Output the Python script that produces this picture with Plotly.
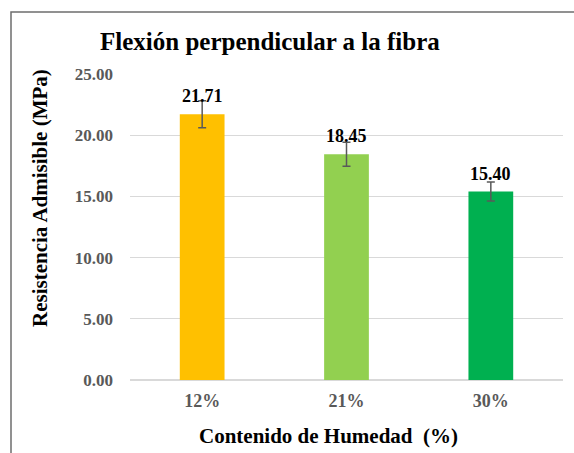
import plotly.graph_objects as go

categories = ["12%", "21%", "30%"]
values = [21.71, 18.45, 15.40]
errors = [1.10, 0.98, 0.78]
colors = ["#FFC000", "#92D050", "#00B050"]
tick_vals = [0, 5, 10, 15, 20, 25]
tick_text = ["0.00", "5.00", "10.00", "15.00", "20.00", "25.00"]

serif = "Liberation Serif"

fig = go.Figure()
fig.add_trace(go.Bar(
    x=categories, y=values,
    marker=dict(color=colors, line=dict(width=0)),
    error_y=dict(type="data", array=errors, visible=True, color="#595959", thickness=1.5, width=4),
    width=0.31,
    hoverinfo="skip",
))

for c, v in zip(categories, values):
    fig.add_annotation(x=c, y=v, text=f"<b>{v:.2f}</b>", showarrow=False,
                       yshift=18, yanchor="middle",
                       font=dict(family=serif, size=18, color="black"))

# titles
fig.add_annotation(xref="paper", yref="paper", x=(270-130)/433, y=(380-42)/306,
                   text="<b>Flexión perpendicular a la fibra</b>", showarrow=False,
                   xanchor="center", yanchor="middle",
                   font=dict(family=serif, size=25, color="black"))
fig.add_annotation(xref="paper", yref="paper", x=(328-130)/433, y=(380-436)/306,
                   text="<b>Contenido de Humedad  (%)</b>", showarrow=False,
                   xanchor="center", yanchor="middle",
                   font=dict(family=serif, size=21, color="black"))
fig.add_annotation(xref="paper", yref="paper", x=(40-130)/433, y=(380-198)/306,
                   text="<b>Resistencia Admisible (MPa)</b>", showarrow=False, textangle=-90,
                   xanchor="center", yanchor="middle",
                   font=dict(family=serif, size=21, color="black"))

# outer border (chart area frame)
fig.add_shape(type="rect", xref="paper", yref="paper",
              x0=(11-130)/433, x1=(600-130)/433, y0=(380-480)/306, y1=(380-12)/306,
              line=dict(color="#6E6E6E", width=1.5), fillcolor="rgba(0,0,0,0)", layer="below")

fig.update_layout(
    width=574, height=453,
    margin=dict(l=130, r=11, t=74, b=73),
    paper_bgcolor="white", plot_bgcolor="white",
    showlegend=False,
    bargap=0.69,
    xaxis=dict(showgrid=False, showline=False, zeroline=False,
               tickfont=dict(family=serif, size=18, color="#595959"),
               ticklabelstandoff=8,
               tickprefix="<b>", ticksuffix="</b>"),
    yaxis=dict(range=[0, 25], tickvals=tick_vals, ticktext=[f"<b>{t}</b>" for t in tick_text],
               showgrid=True, gridcolor="#D9D9D9", gridwidth=1,
               zeroline=True, zerolinecolor="#D9D9D9", zerolinewidth=1.5,
               showline=False,
               tickfont=dict(family=serif, size=17, color="#595959"),
               ticklabelstandoff=16),
)

fig.write_html("out.html", config={"displayModeBar": False},
               post_script="document.body.style.margin='0';document.body.style.overflow='hidden';")
